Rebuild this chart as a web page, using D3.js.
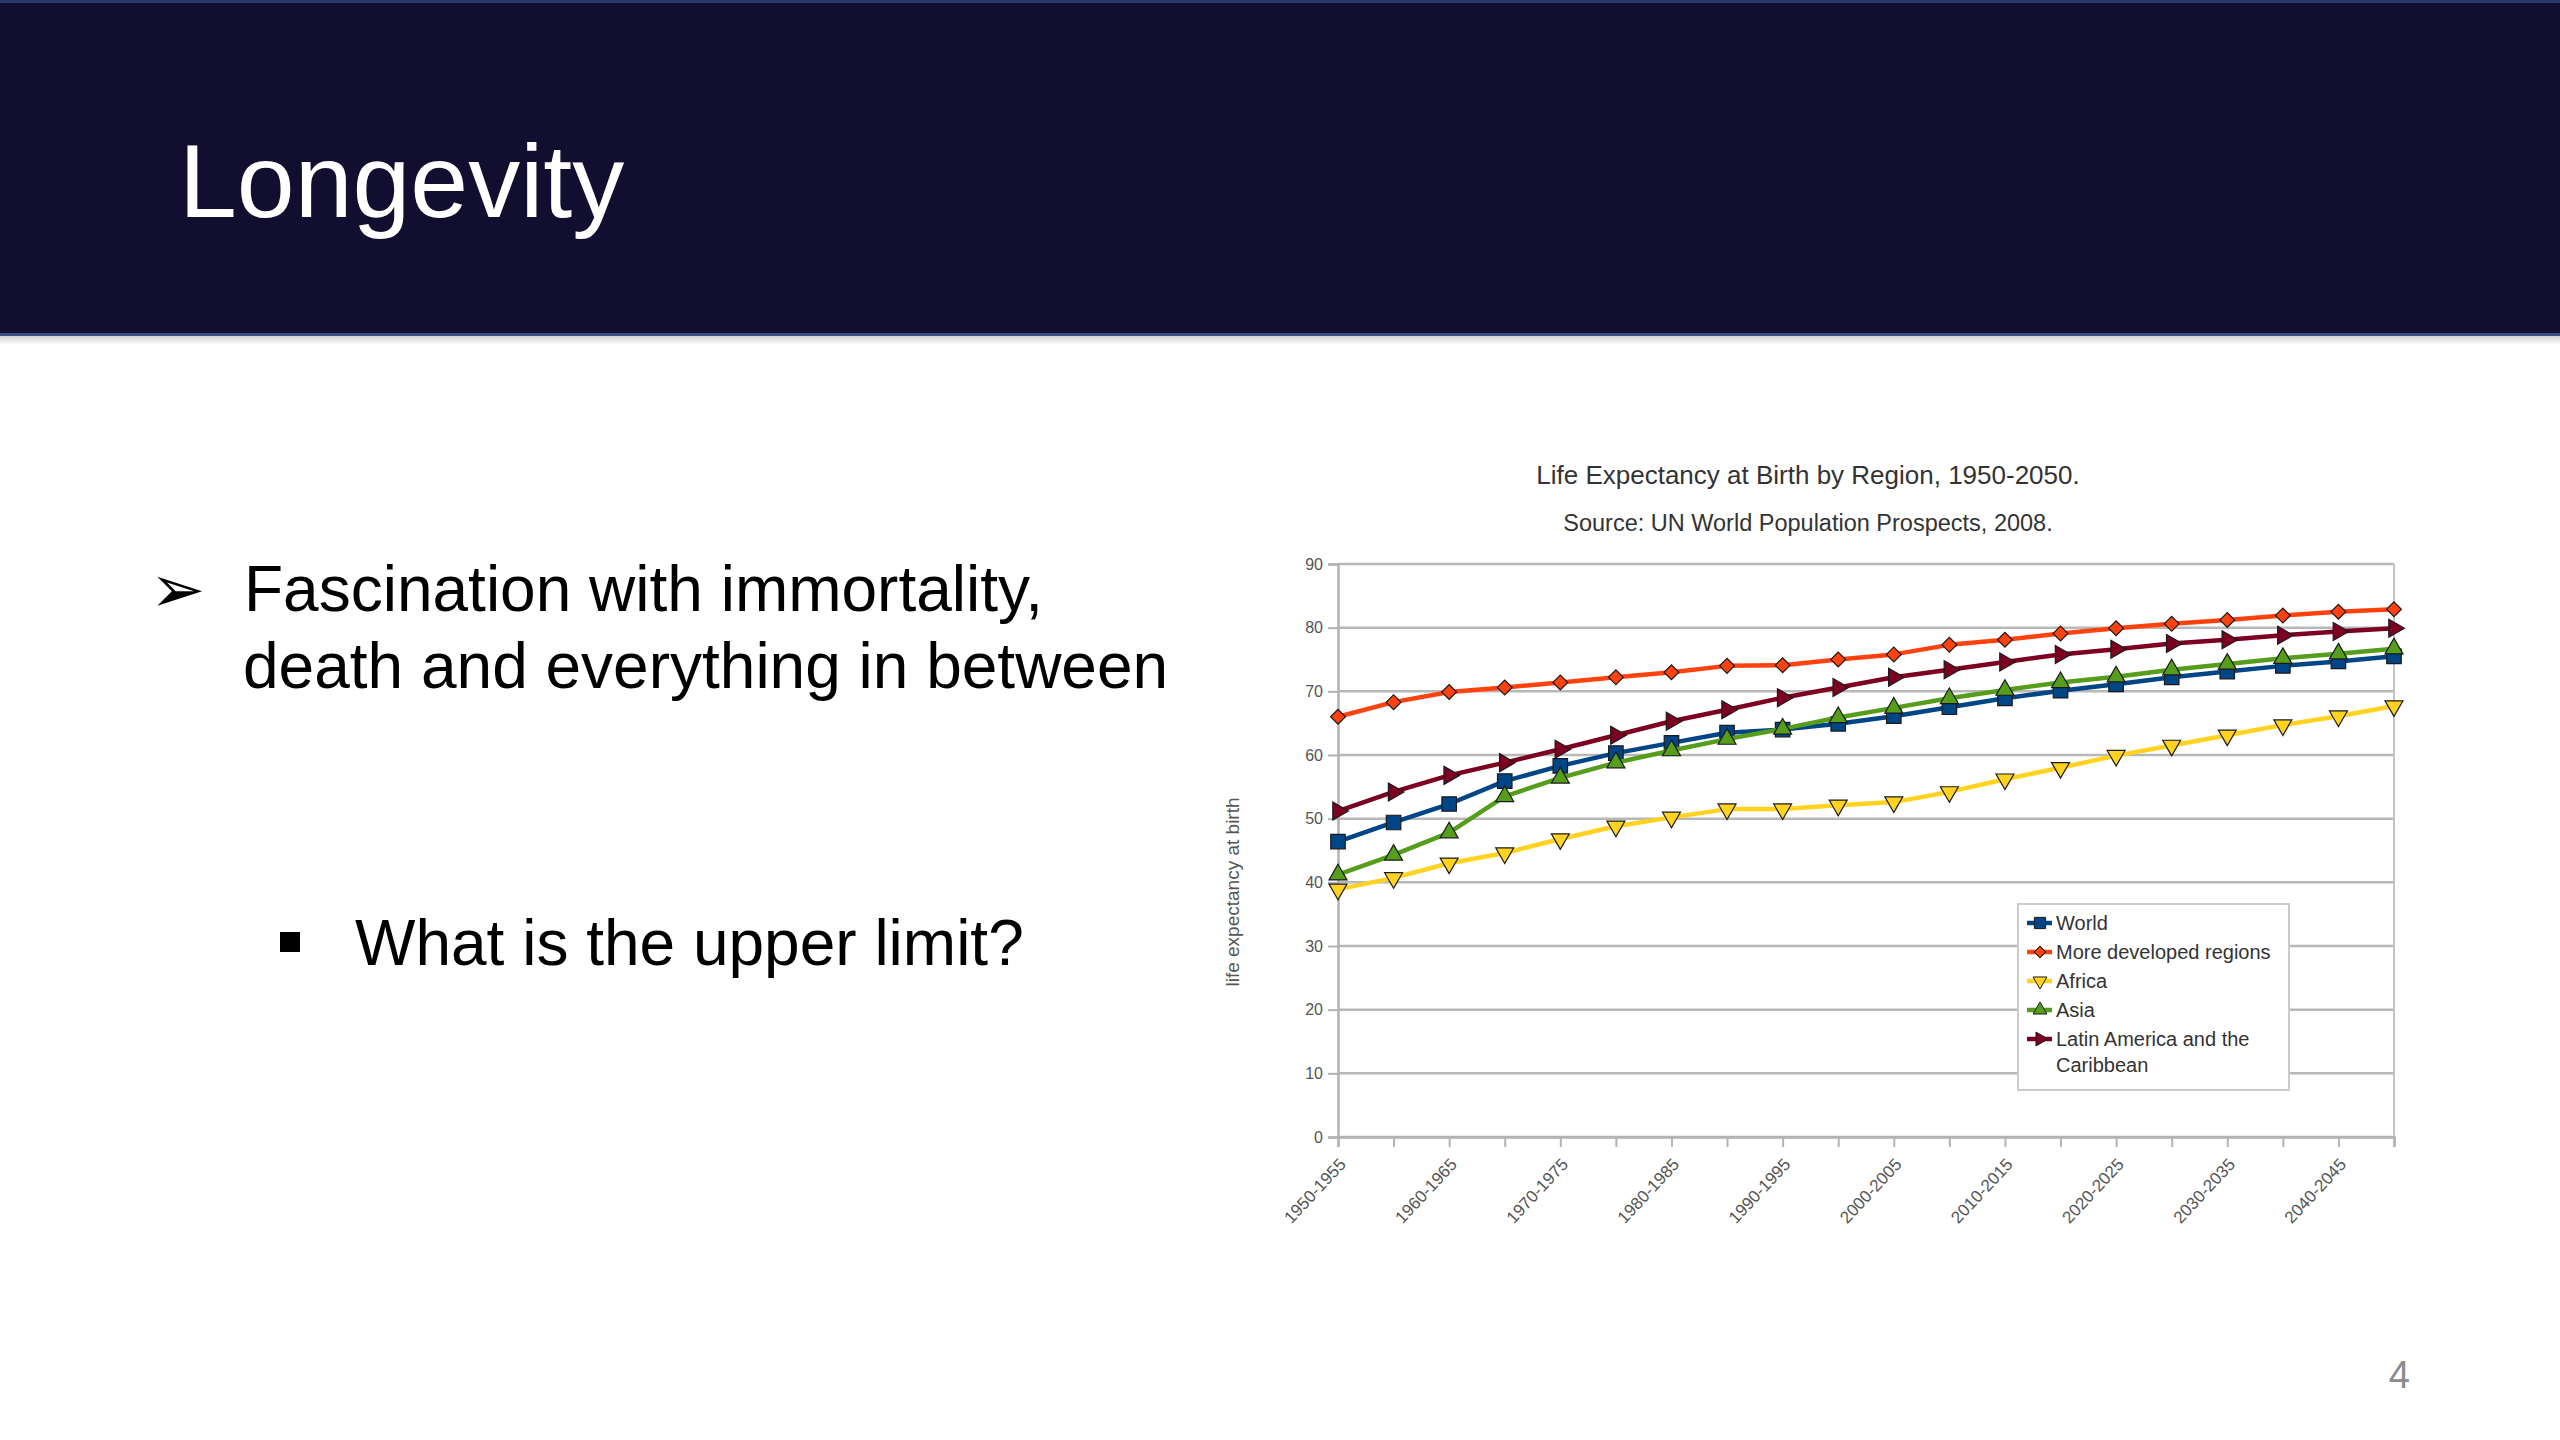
<!DOCTYPE html>
<html>
<head>
<meta charset="utf-8">
<script src="https://cdn.jsdelivr.net/npm/d3@7"></script>
<style>
  html, body { margin: 0; padding: 0; background: #ffffff; }
  svg { display: block; }
</style>
</head>
<body>
<svg id="slide" width="2560" height="1440"></svg>
<script>
// ---------------- DATA ----------------
const categories = ["1950-1955","1955-1960","1960-1965","1965-1970","1970-1975","1975-1980","1980-1985","1985-1990","1990-1995","1995-2000","2000-2005","2005-2010","2010-2015","2015-2020","2020-2025","2025-2030","2030-2035","2035-2040","2040-2045","2045-2050"];
const world    = [46.4, 49.4, 52.3, 55.9, 58.3, 60.3, 61.9, 63.5, 64.0, 64.9, 66.1, 67.5, 68.9, 70.1, 71.1, 72.2, 73.1, 74.0, 74.7, 75.5];
const moreDev  = [66.0, 68.3, 69.9, 70.6, 71.4, 72.2, 73.0, 74.0, 74.1, 75.0, 75.8, 77.3, 78.1, 79.1, 79.9, 80.6, 81.2, 81.9, 82.5, 82.9];
const africa   = [38.9, 40.7, 43.0, 44.6, 46.8, 48.8, 50.2, 51.5, 51.5, 52.1, 52.6, 54.2, 56.2, 58.0, 59.9, 61.5, 63.1, 64.7, 66.1, 67.7];
const asia     = [41.2, 44.3, 47.8, 53.5, 56.4, 58.8, 60.7, 62.5, 64.1, 65.9, 67.4, 68.9, 70.2, 71.4, 72.3, 73.4, 74.3, 75.2, 75.9, 76.7];
const latam    = [51.2, 54.2, 56.8, 58.8, 60.9, 63.1, 65.3, 67.1, 69.0, 70.6, 72.2, 73.4, 74.6, 75.8, 76.6, 77.5, 78.1, 78.8, 79.4, 79.9];
const seriesNames = ["World", "More developed regions", "Africa", "Asia", "Latin America and the Caribbean"];
const yTicks = [0, 10, 20, 30, 40, 50, 60, 70, 80, 90];
const slideTitle = "Longevity";
const chartTitle = "Life Expectancy at Birth by Region, 1950-2050.";
const chartSubtitle = "Source: UN World Population Prospects, 2008.";
const yAxisTitle = "life expectancy at birth";

// ---------------- STYLE ----------------
const colors = ["#004586", "#ff420e", "#ffd320", "#579d1c", "#7e0021"];
const symbols = [
  {type: d3.symbolSquare, size: 210, rot: 0},
  {type: d3.symbolSquare, size: 110, rot: 45},
  {type: d3.symbolTriangle, size: 140, rot: 180},
  {type: d3.symbolTriangle, size: 140, rot: 0},
  {type: d3.symbolTriangle, size: 140, rot: 90}
];
const seriesData = [world, moreDev, africa, asia, latam];
const FONT = "'Liberation Sans', Arial, Helvetica, sans-serif";

const svg = d3.select("#slide");

// ---------------- HEADER ----------------
const defs = svg.append("defs");
const grad = defs.append("linearGradient").attr("id", "shadow").attr("x1", 0).attr("y1", 0).attr("x2", 0).attr("y2", 1);
grad.append("stop").attr("offset", "0%").attr("stop-color", "#000").attr("stop-opacity", 0.18);
grad.append("stop").attr("offset", "100%").attr("stop-color", "#000").attr("stop-opacity", 0);

svg.append("rect").attr("x", 0).attr("y", 0).attr("width", 2560).attr("height", 335).attr("fill", "#110e2f");
svg.append("rect").attr("x", 0).attr("y", 0).attr("width", 2560).attr("height", 3).attr("fill", "#2a3a6a");
svg.append("rect").attr("x", 0).attr("y", 333).attr("width", 2560).attr("height", 3).attr("fill", "#3c4d80");
svg.append("rect").attr("x", 0).attr("y", 336).attr("width", 2560).attr("height", 9).attr("fill", "url(#shadow)");

svg.append("text").attr("x", 179).attr("y", 217)
  .attr("font-family", FONT).attr("font-size", 104).attr("fill", "#ffffff")
  .text(slideTitle);

// ---------------- BODY TEXT ----------------
svg.append("text").attr("x", 150).attr("y", 612)
  .attr("font-family", "'DejaVu Sans', sans-serif").attr("font-size", 66).attr("fill", "#000")
  .text("➢");
svg.append("text").attr("x", 244).attr("y", 611)
  .attr("font-family", FONT).attr("font-size", 64).attr("fill", "#000")
  .text("Fascination with immortality,");
svg.append("text").attr("x", 243).attr("y", 688)
  .attr("font-family", FONT).attr("font-size", 64).attr("fill", "#000")
  .text("death and everything in between");

svg.append("rect").attr("x", 280).attr("y", 932).attr("width", 20).attr("height", 20).attr("fill", "#000");
svg.append("text").attr("x", 355).attr("y", 965)
  .attr("font-family", FONT).attr("font-size", 64).attr("fill", "#000")
  .text("What is the upper limit?");

svg.append("text").attr("x", 2410).attr("y", 1388).attr("text-anchor", "end")
  .attr("font-family", FONT).attr("font-size", 38).attr("fill", "#8c8c8c")
  .text("4");

// ---------------- CHART ----------------
const x = d3.scalePoint().domain(categories).range([1338, 2394]).padding(0);
const y = d3.scaleLinear().domain([0, 90]).range([1137, 564]);

const chart = svg.append("g");

// titles
chart.append("text").attr("x", 1808).attr("y", 484).attr("text-anchor", "middle")
  .attr("font-family", FONT).attr("font-size", 26).attr("fill", "#333")
  .text(chartTitle);
chart.append("text").attr("x", 1808).attr("y", 531).attr("text-anchor", "middle")
  .attr("font-family", FONT).attr("font-size", 23.5).attr("fill", "#333")
  .text(chartSubtitle);

// gridlines
chart.append("g").selectAll("line").data(yTicks).join("line")
  .attr("x1", 1338).attr("x2", 2394)
  .attr("y1", d => y(d)).attr("y2", d => y(d))
  .attr("stroke", "#b8b8b8").attr("stroke-width", 2.5);

// right border
chart.append("line").attr("x1", 2394).attr("x2", 2394).attr("y1", y(90)).attr("y2", y(0))
  .attr("stroke", "#c4c4c4").attr("stroke-width", 2);

// y axis
const yAxis = chart.append("g").attr("transform", "translate(1338,0)")
  .call(d3.axisLeft(y).tickValues(yTicks).tickSize(10).tickPadding(5).tickFormat(d3.format("d")));
yAxis.select(".domain").attr("stroke", "#b3b3b3").attr("stroke-width", 2.5);
yAxis.selectAll(".tick line").attr("stroke", "#b3b3b3").attr("stroke-width", 2);
yAxis.selectAll(".tick text").attr("font-family", FONT).attr("font-size", 16).attr("fill", "#555");

// x axis
const xAxis = chart.append("g").attr("transform", "translate(0,1137)")
  .call(d3.axisBottom(x).tickSize(10).tickFormat((d, i) => i % 2 === 0 ? d : ""));
xAxis.select(".domain").attr("stroke", "#b3b3b3").attr("stroke-width", 2.5);
xAxis.selectAll(".tick line").attr("stroke", "#b3b3b3").attr("stroke-width", 2);
xAxis.selectAll(".tick text")
  .attr("font-family", FONT).attr("font-size", 17).attr("fill", "#555")
  .attr("text-anchor", "end")
  .attr("transform", "translate(4,24) rotate(-47)")
  .attr("dy", "0.35em").attr("y", 0).attr("x", 0);

// y axis title
chart.append("text")
  .attr("transform", "translate(1239,892) rotate(-90)")
  .attr("text-anchor", "middle")
  .attr("font-family", FONT).attr("font-size", 19).attr("fill", "#555")
  .text(yAxisTitle);

// series
const line = d3.line().x((d, i) => x(categories[i])).y(d => y(d));
seriesData.forEach((vals, s) => {
  const g = chart.append("g");
  g.append("path").datum(vals).attr("d", line)
    .attr("fill", "none").attr("stroke", colors[s]).attr("stroke-width", 4.5)
    .attr("stroke-linejoin", "round");
  g.selectAll("path.m").data(vals).join("path").attr("class", "m")
    .attr("d", d3.symbol().type(symbols[s].type).size(symbols[s].size))
    .attr("transform", (d, i) => `translate(${x(categories[i])},${y(d)}) rotate(${symbols[s].rot})`)
    .attr("fill", colors[s]).attr("stroke", "#1a1a1a").attr("stroke-width", 1.2);
});

// legend
const legend = chart.append("g");
legend.append("rect").attr("x", 2018).attr("y", 904).attr("width", 271).attr("height", 186)
  .attr("fill", "#fff").attr("stroke", "#cccccc").attr("stroke-width", 2);
const legendY = [923, 952, 981, 1010, 1039];
seriesNames.forEach((name, s) => {
  const ly = legendY[s];
  legend.append("line").attr("x1", 2027).attr("x2", 2052).attr("y1", ly).attr("y2", ly)
    .attr("stroke", colors[s]).attr("stroke-width", 4.5);
  legend.append("path")
    .attr("d", d3.symbol().type(symbols[s].type).size(symbols[s].size * 0.6))
    .attr("transform", `translate(2040,${ly}) rotate(${symbols[s].rot})`)
    .attr("fill", colors[s]).attr("stroke", "#1a1a1a").attr("stroke-width", 1);
  const t = legend.append("text").attr("x", 2056).attr("y", ly + 7)
    .attr("font-family", FONT).attr("font-size", 20).attr("fill", "#333");
  if (s === 4) {
    t.append("tspan").attr("x", 2056).text("Latin America and the");
    t.append("tspan").attr("x", 2056).attr("dy", 26).text("Caribbean");
  } else {
    t.text(name);
  }
});
</script>
</body>
</html>
